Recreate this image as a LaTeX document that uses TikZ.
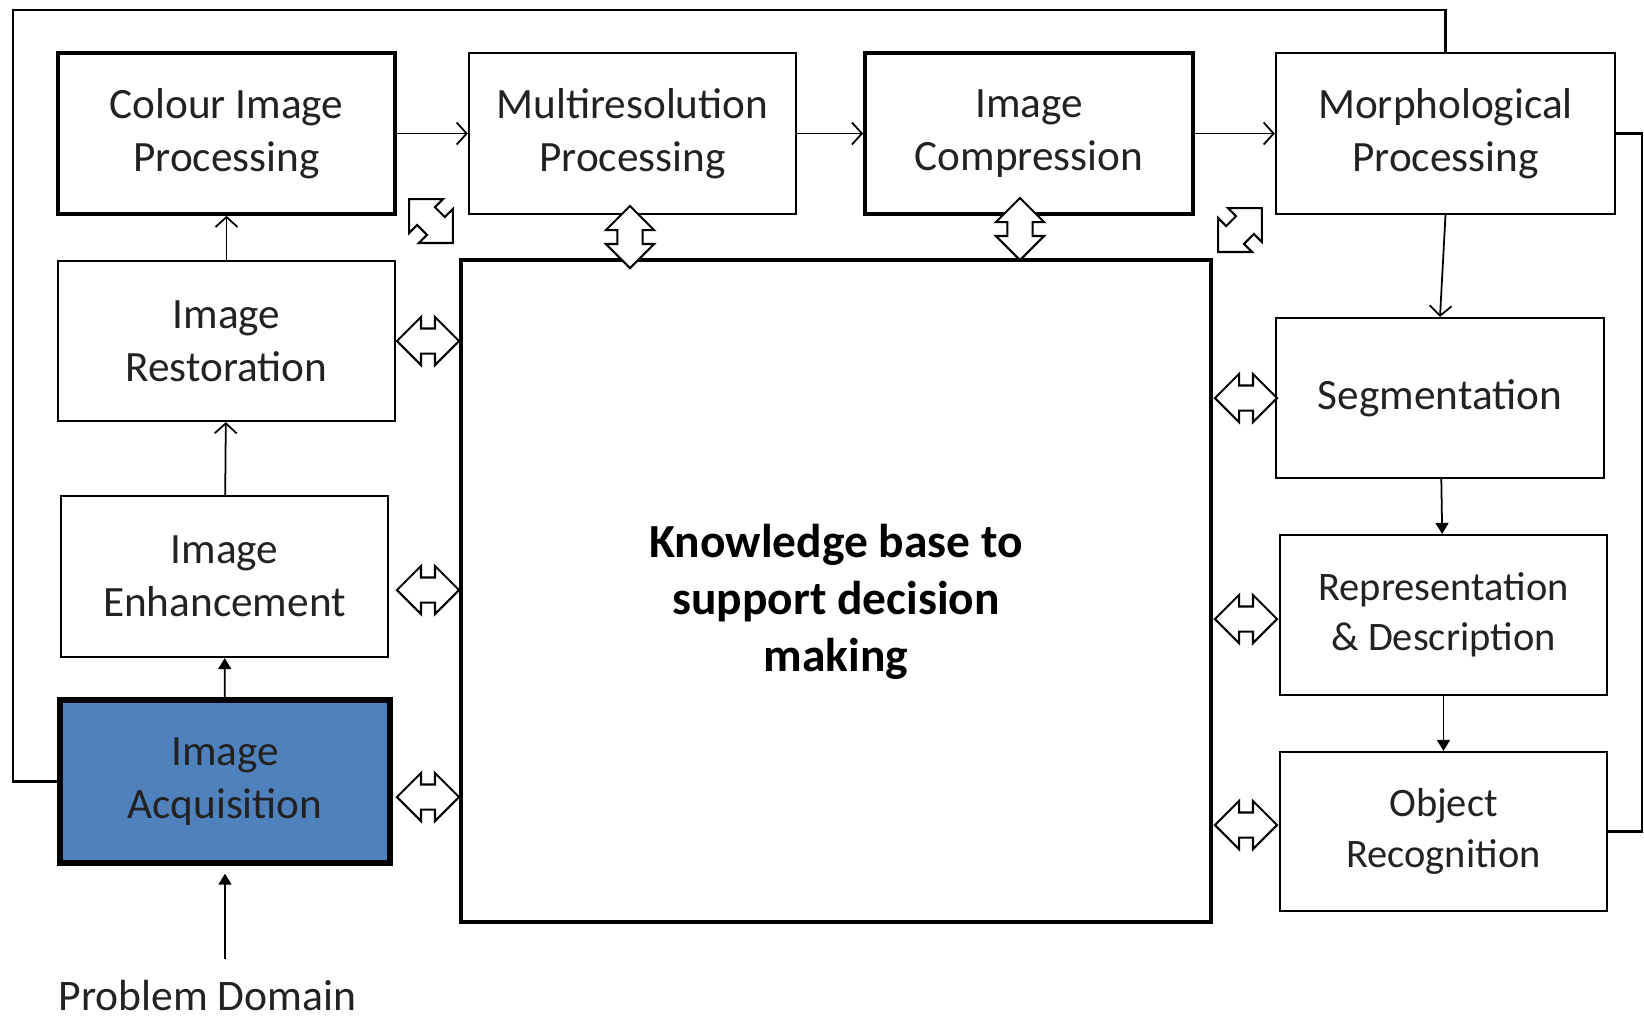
\documentclass[tikz,border=0pt]{standalone}
\usepackage{fontspec}
\setmainfont{Carlito}
\usetikzlibrary{shapes.arrows, arrows.meta}
\definecolor{acqblue}{RGB}{79,129,189}
\definecolor{txtgray}{RGB}{34,34,34}
\tikzstyle{stage} = [rectangle, minimum width=3.27cm, minimum height=1.6cm, text centered, align=center, draw=black, line width=0.6pt, text=txtgray, font=\fontsize{12.3}{15.2}\selectfont]
\tikzstyle{stagethick} = [stage, line width=1pt]
\tikzstyle{stagesmall} = [stage, font=\fontsize{11.5}{14.3}\selectfont]
\tikzstyle{kbox} = [rectangle, minimum width=7.5cm, minimum height=6.62cm, align=center, draw=black, line width=1pt, font=\fontsize{13.5}{16.2}\selectfont\bfseries]
\tikzstyle{link} = [line width=0.5pt, -{Straight Barb[length=1mm,width=2.2mm]}]
\tikzstyle{flink} = [line width=0.5pt, -{Triangle[length=1.1mm,width=1.3mm]}]
\tikzstyle{dbl} = [double arrow, draw=black, line width=0.6pt, fill=white, text height=0.23cm, text depth=0pt, minimum height=0.62cm, minimum width=0.46cm, double arrow head extend=0.115cm, inner sep=0pt]
\begin{document}
\begin{tikzpicture}[x=0.01cm, y=-0.01cm]
\useasboundingbox (0,0) rectangle (1644,1020);
\node (colour) [stagethick, minimum width=3.37cm, minimum height=1.61cm] at (226.5,133.5) {Colour Image\\Processing};
\node (multi) [stage, minimum width=3.27cm, minimum height=1.61cm] at (632.5,133.5) {Multiresolution\\Processing};
\node (compr) [stagethick, minimum width=3.28cm, minimum height=1.61cm] at (1029,133.5) {Image\\Compression};
\node (morph) [stage, minimum width=3.39cm, minimum height=1.61cm] at (1445.5,133.5) {Morphological\\Processing};

\node (restor) [stage, minimum width=3.37cm] at (226.5,341) {Image\\Restoration};
\node (enhan) [stage, minimum width=3.27cm, minimum height=1.61cm] at (224.5,576.5) {Image\\Enhancement};
\node (acq) [stage, line width=1.5pt, fill=acqblue, minimum width=3.3cm, minimum height=1.63cm] at (225,781.5) {Image\\Acquisition};

\node (kb) [kbox] at (836,591) {\rule{0pt}{0.55cm}Knowledge base to\\support decision\\making};

\node (seg) [stage, minimum width=3.28cm] at (1440,398) {Segmentation};
\node (repr) [stagesmall, minimum width=3.27cm] at (1443.5,615) {Representation\\\& Description};
\node (obj) [stagesmall, minimum width=3.27cm, minimum height=1.59cm] at (1443.5,831.5) {Object\\Recognition};

\node (pd) [anchor=base west, inner sep=0pt, text=txtgray, font=\fontsize{12.4}{15}\selectfont] at (58,1010) {Problem Domain};
\coordinate (topleft) at (13,10);

\draw [link] (colour) -- (multi);
\draw [link] (multi) -- (compr);
\draw [link] (compr) -- (morph);
\draw [link] (restor) -- (colour);
\draw [link] (enhan) -- (restor);
\draw [flink] (acq) -- (enhan);
\draw [flink, shorten >=0.08cm] ([yshift=0.2cm]pd.north -| acq.south) -- (acq.south);
\draw [link] (morph.south) -- (seg.north);
\draw [flink] (seg) -- (repr);
\draw [flink] (repr) -- (obj);

\draw [line width=0.6pt] (acq.west) -| (topleft) -| (morph.north);
\draw [line width=0.6pt] (morph.east) -- ++(26,0) |- (obj.east);

\node (dRes) [dbl] at (428,341) {};
\node (dEnh) [dbl] at (428,590) {};
\node (dAcq) [dbl] at (428,797) {};
\node (dSeg) [dbl] at (1246,398) {};
\node (dRep) [dbl] at (1246,619) {};
\node (dObj) [dbl] at (1246,825) {};
\node (dMul) [dbl, rotate=90] at (630,237) {};
\node (dCom) [dbl, rotate=90] at (1020,229) {};
\node (dCol) [dbl, rotate=-45] at (431,221) {};
\node (dMor) [dbl, rotate=45] at (1240,230) {};
\end{tikzpicture}
\end{document}
